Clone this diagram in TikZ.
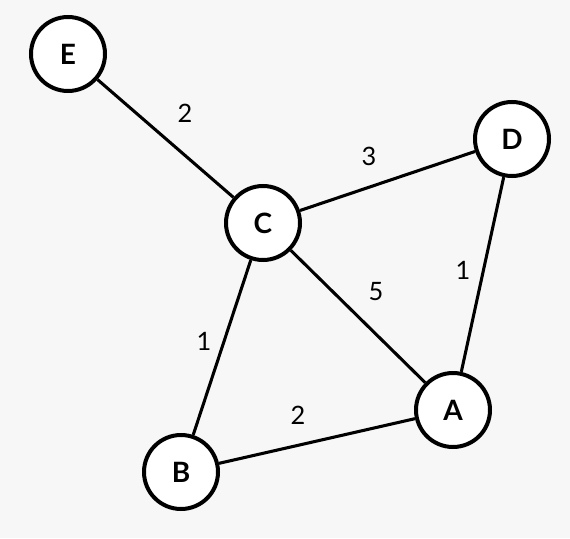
\documentclass[tikz,border=0pt]{standalone}
\usepackage{fontspec}
\setmainfont{Lato}
\definecolor{bgcol}{HTML}{F7F7F7}
\begin{document}
\begin{tikzpicture}[
  x=0.75pt, y=-0.75pt,
  vertex/.style={
    circle,
    draw=black,
    line width=3pt,
    fill=white,
    minimum size=55.5pt,
    inner sep=0pt,
    font=\fontsize{21}{24}\selectfont\bfseries
  },
  edge/.style={line width=2.3pt, draw=black},
  weight/.style={font=\fontsize{19}{22}\selectfont}
]
\fill[bgcol] (0,0) rectangle (570,538);
\useasboundingbox (0,0) rectangle (570,538);

\node[vertex] (E) at (68,54) {E};
\node[vertex] (C) at (263,223) {C};
\node[vertex] (D) at (512,139) {D};
\node[vertex] (A) at (453,410) {A};
\node[vertex] (B) at (181,472) {B};

\draw[edge] (E) -- (C);
\draw[edge] (C) -- (D);
\draw[edge] (C) -- (A);
\draw[edge] (C) -- (B);
\draw[edge] (D) -- (A);
\draw[edge] (B) -- (A);

\node[weight] (wec) at (185,113) {2};
\node[weight] (wcd) at (369,156) {3};
\node[weight] (wca) at (376,292) {5};
\node[weight] (wda) at (463,270) {1};
\node[weight] (wcb) at (204,341) {1};
\node[weight] (wba) at (298,415) {2};
\end{tikzpicture}
\end{document}
